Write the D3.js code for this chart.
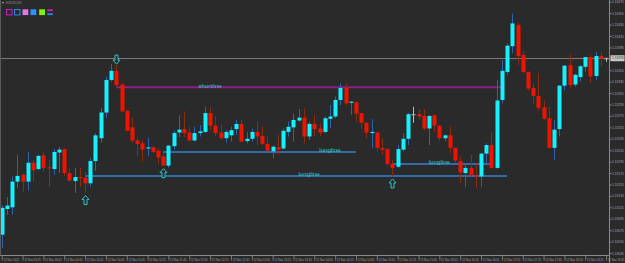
<!DOCTYPE html>
<html><head><meta charset="utf-8">
<script src="https://cdn.jsdelivr.net/npm/d3@7"></script>
<style>html,body{margin:0;padding:0;background:#2a2a2a;overflow:hidden}</style>
</head><body>
<svg id="c" width="625" height="263"></svg>
<script>
const symbol = "EURUSD,M5";
const day = "2021-11-12";
const barTimes = [
"09:05","09:10","09:15","09:20","09:25","09:30","09:35","09:40","09:45","09:50","09:55",
"10:00","10:05","10:10","10:15","10:20","10:25","10:30","10:35","10:40","10:45","10:50","10:55",
"11:00","11:05","11:10","11:15","11:20","11:25","11:30","11:35","11:40","11:45","11:50","11:55",
"12:00","12:05","12:10","12:15","12:20","12:25","12:30","12:35","12:40","12:45","12:50","12:55",
"13:00","13:05","13:10","13:15","13:20","13:25","13:30","13:35","13:40","13:45","13:50","13:55",
"14:00","14:05","14:10","14:15","14:20","14:25","14:30","14:35","14:40","14:45","14:50","14:55",
"15:00","15:05","15:10","15:15","15:20","15:25","15:30","15:35","15:40","15:45","15:50","15:55",
"16:00","16:05","16:10","16:15","16:20","16:25","16:30","16:35","16:40","16:45","16:50","16:55",
"17:00","17:05","17:10","17:15","17:20","17:25","17:30","17:35","17:40","17:45","17:50","17:55",
"18:00","18:05","18:10","18:15","18:20","18:25","18:30","18:35","18:40","18:45"];
const open = [
1.13067,1.13112,1.13115,1.13160,1.13172,1.13160,1.13193,1.13182,1.13206,1.13185,1.13182,
1.13211,1.13217,1.13175,1.13161,1.13168,1.13167,1.13157,1.13196,1.13236,1.13281,1.13338,1.13354,
1.13330,1.13284,1.13255,1.13232,1.13227,1.13218,1.13220,1.13214,1.13204,1.13188,1.13222,1.13246,
1.13252,1.13246,1.13232,1.13245,1.13247,1.13280,1.13258,1.13246,1.13236,1.13241,1.13252,1.13261,
1.13231,1.13235,1.13247,1.13240,1.13226,1.13213,1.13220,1.13218,1.13247,1.13255,1.13267,1.13272,
1.13239,1.13261,1.13253,1.13247,1.13270,1.13274,1.13303,1.13324,1.13298,1.13299,1.13280,1.13263,
1.13245,1.13246,1.13219,1.13217,1.13191,1.13186,1.13216,1.13235,1.13278,1.13278,1.13275,1.13253,
1.13276,1.13258,1.13236,1.13241,1.13219,1.13196,1.13175,1.13184,1.13171,1.13169,1.13209,1.13224,
1.13184,1.13303,1.13352,1.13397,1.13434,1.13382,1.13352,1.13324,1.13310,1.13290,1.13271,1.13219,
1.13252,1.13328,1.13364,1.13330,1.13343,1.13361,1.13378,1.13345,1.13380,1.13376];
const high = [
1.13118,1.13133,1.13169,1.13207,1.13174,1.13212,1.13198,1.13207,1.13211,1.13198,1.13217,
1.13221,1.13218,1.13184,1.13184,1.13184,1.13177,1.13201,1.13245,1.13289,1.13344,1.13366,1.13364,
1.13333,1.13286,1.13272,1.13237,1.13233,1.13237,1.13223,1.13219,1.13210,1.13224,1.13249,1.13276,
1.13283,1.13256,1.13256,1.13259,1.13291,1.13291,1.13274,1.13261,1.13250,1.13256,1.13268,1.13268,
1.13247,1.13253,1.13266,1.13256,1.13239,1.13224,1.13242,1.13253,1.13265,1.13279,1.13287,1.13288,
1.13265,1.13277,1.13262,1.13274,1.13294,1.13309,1.13332,1.13332,1.13301,1.13300,1.13280,1.13264,
1.13269,1.13247,1.13236,1.13218,1.13198,1.13224,1.13245,1.13280,1.13291,1.13287,1.13287,1.13276,
1.13278,1.13259,1.13242,1.13256,1.13220,1.13204,1.13189,1.13207,1.13193,1.13210,1.13227,1.13247,
1.13338,1.13373,1.13402,1.13454,1.13438,1.13389,1.13353,1.13332,1.13350,1.13302,1.13291,1.13268,
1.13329,1.13364,1.13382,1.13349,1.13364,1.13379,1.13382,1.13387,1.13387,1.13377];
const low = [
1.13044,1.13102,1.13102,1.13149,1.13142,1.13144,1.13160,1.13180,1.13177,1.13151,1.13172,
1.13175,1.13170,1.13160,1.13140,1.13151,1.13140,1.13151,1.13179,1.13228,1.13272,1.13335,1.13326,
1.13282,1.13248,1.13228,1.13205,1.13195,1.13205,1.13210,1.13191,1.13187,1.13184,1.13216,1.13238,
1.13238,1.13230,1.13230,1.13239,1.13245,1.13250,1.13239,1.13233,1.13228,1.13230,1.13242,1.13229,
1.13227,1.13230,1.13224,1.13224,1.13213,1.13201,1.13207,1.13216,1.13239,1.13230,1.13265,1.13227,
1.13233,1.13239,1.13239,1.13245,1.13253,1.13271,1.13294,1.13294,1.13277,1.13265,1.13253,1.13236,
1.13219,1.13213,1.13207,1.13186,1.13169,1.13184,1.13213,1.13224,1.13263,1.13269,1.13250,1.13224,
1.13247,1.13231,1.13231,1.13210,1.13192,1.13157,1.13151,1.13169,1.13149,1.13151,1.13192,1.13183,
1.13182,1.13297,1.13347,1.13385,1.13364,1.13350,1.13320,1.13297,1.13285,1.13268,1.13218,1.13198,
1.13239,1.13320,1.13325,1.13326,1.13335,1.13352,1.13333,1.13338,1.13362,1.13370];
const close = [
1.13114,1.13118,1.13160,1.13170,1.13160,1.13193,1.13180,1.13205,1.13184,1.13184,1.13212,
1.13216,1.13175,1.13162,1.13168,1.13167,1.13157,1.13196,1.13241,1.13281,1.13338,1.13354,1.13329,
1.13283,1.13249,1.13232,1.13226,1.13216,1.13220,1.13212,1.13202,1.13188,1.13223,1.13245,1.13251,
1.13245,1.13232,1.13245,1.13248,1.13280,1.13258,1.13245,1.13236,1.13247,1.13250,1.13261,1.13230,
1.13235,1.13247,1.13239,1.13226,1.13214,1.13221,1.13216,1.13249,1.13256,1.13268,1.13272,1.13239,
1.13261,1.13252,1.13246,1.13271,1.13274,1.13303,1.13324,1.13297,1.13300,1.13279,1.13263,1.13246,
1.13247,1.13219,1.13216,1.13191,1.13184,1.13217,1.13235,1.13278,1.13278,1.13274,1.13253,1.13275,
1.13258,1.13236,1.13241,1.13219,1.13197,1.13176,1.13184,1.13171,1.13169,1.13209,1.13224,1.13184,
1.13302,1.13354,1.13398,1.13437,1.13380,1.13352,1.13323,1.13310,1.13289,1.13270,1.13219,1.13251,
1.13328,1.13363,1.13329,1.13347,1.13362,1.13378,1.13344,1.13380,1.13375,1.13376];

const priceTicks = [1.13475,1.13455,1.13435,1.13415,1.13395,1.13375,1.13355,1.13335,1.13315,1.13295,1.13275,1.13255,
  1.13235,1.13215,1.13195,1.13175,1.13155,1.13135,1.13115,1.13095,1.13075,1.13055,1.13035];
const bidPrice = 1.13376;
const timeTickTimes = ["09:05","09:25","09:45","10:05","10:25","10:45","11:05","11:25","11:45","12:05","12:25","12:45",
  "13:05","13:25","13:45","14:05","14:25","14:45","15:05","15:25","15:45","16:05","16:25","16:45","17:05","17:25",
  "17:45","18:05","18:25","18:45"];
const timeTickLabels = ["12 Nov 2021","12 Nov 09:25","12 Nov 09:45","12 Nov 10:05","12 Nov 10:25","12 Nov 10:45",
  "12 Nov 11:05","12 Nov 11:25","12 Nov 11:45","12 Nov 12:05","12 Nov 12:25","12 Nov 12:45","12 Nov 13:05",
  "12 Nov 13:25","12 Nov 13:45","12 Nov 14:05","12 Nov 14:25","12 Nov 14:45","12 Nov 15:05","12 Nov 15:25",
  "12 Nov 15:45","12 Nov 16:05","12 Nov 16:25","12 Nov 16:45","12 Nov 17:05","12 Nov 17:25","12 Nov 17:45",
  "12 Nov 18:05","12 Nov 18:25","12 Nov 18:45"];

const lineNames  = ["shortline","longline","longline","longline"];
const lineKind   = ["short","long","long","long"];
const lineStart  = ["10:55","11:40","10:25","15:20"];
const lineEnd    = ["17:05","14:45","17:10","16:55"];
const linePrice  = [1.13325,1.13212,1.13170,1.13191];
const lineLabelAt= ["12:25","14:20","14:00","16:05"];

const arrowUpTimes = ["10:25","11:40","15:20"];
const arrowDownTimes = ["10:55"];

// ---------- drawing ----------
const W = 625, H = 263, plotRight = 609.5, plotBottom = 255.5;
const FONT = "Liberation Sans, Arial, sans-serif";
const parse = d3.timeParse("%Y-%m-%d %H:%M");
const T = s => parse(day + " " + s);
const bars = barTimes.map((t,i)=>({t:T(t), o:open[i], h:high[i], l:low[i], c:close[i]}));
const x = d3.scaleTime().domain([T(barTimes[0]), T(barTimes[barTimes.length-1])]).range([1.7, 606.1]);
const y = d3.scaleLinear().domain([priceTicks[priceTicks.length-1], priceTicks[0]]).range([253, 1.7]);

const svg = d3.select("#c");
svg.append("rect").attr("width",W).attr("height",H).attr("fill","#2a2a2a");
svg.append("defs").append("clipPath").attr("id","plot").append("rect")
  .attr("x",0).attr("y",0).attr("width",plotRight).attr("height",plotBottom);
const g = svg.append("g").attr("clip-path","url(#plot)");

// bid line
g.append("line").attr("x1",0).attr("x2",plotRight).attr("y1",Math.round(y(bidPrice))+0.5).attr("y2",Math.round(y(bidPrice))+0.5)
  .attr("stroke","#7a7a7a").attr("stroke-width",1);

// trend lines
const lines = lineNames.map((n,i)=>({n, kind:lineKind[i], s:T(lineStart[i]), e:T(lineEnd[i]), p:linePrice[i], la:T(lineLabelAt[i])}));
g.selectAll("line.tl").data(lines).enter().append("line").attr("class","tl")
  .attr("x1",d=>x(d.s)).attr("x2",d=>x(d.e)).attr("y1",d=>y(d.p)).attr("y2",d=>y(d.p))
  .attr("stroke",d=>d.kind==="short"?"#8c1f8c":"#2f6bac").attr("stroke-width",2);

// candles
const bull = "#14f2ff", bear = "#f01400", bullWick = "#2a63b0", bearWick = "#8a2c10", dojiCol = "#b8b8b8";
const cg = g.append("g");
const cand = cg.selectAll("g.c").data(bars).enter().append("g").attr("class","c");
const colFor = d => d.c > d.o ? "bull" : (d.c < d.o ? "bear" : "doji");
cand.append("line")
  .attr("x1",d=>Math.round(x(d.t))+0.5).attr("x2",d=>Math.round(x(d.t))+0.5)
  .attr("y1",d=>y(d.h)).attr("y2",d=>y(d.l))
  .attr("stroke",d=>({bull:bullWick,bear:bearWick,doji:dojiCol})[colFor(d)]).attr("stroke-width",1);
cand.append("rect")
  .attr("x",d=>Math.round(x(d.t))-1.5).attr("width",4)
  .attr("y",d=>y(Math.max(d.o,d.c)))
  .attr("height",d=>Math.max(1, y(Math.min(d.o,d.c)) - y(Math.max(d.o,d.c))))
  .attr("fill",d=>({bull:bull,bear:bear,doji:dojiCol})[colFor(d)]);

// line labels
g.selectAll("text.tl").data(lines).enter().append("text").attr("class","tl")
  .attr("x",d=>x(d.la)).attr("y",d=>y(d.p)+0.5).attr("text-anchor","middle")
  .attr("font-family",FONT).attr("font-size",6.2)
  .attr("fill","#34c6c6").text(d=>d.n);

// arrows
const barAt = t => bars.find(b=>+b.t===+T(t));
const upPath = "M0,0 L3.5,4 L1.5,4 L1.5,9 L-1.5,9 L-1.5,4 L-3.5,4 Z";
const downPath = "M0,0 L3.5,-4 L1.5,-4 L1.5,-9 L-1.5,-9 L-1.5,-4 L-3.5,-4 Z";
g.selectAll("path.au").data(arrowUpTimes.map(barAt)).enter().append("path").attr("class","au")
  .attr("d",upPath).attr("transform",d=>`translate(${Math.round(x(d.t))+0.5},${y(d.l)+2.5})`)
  .attr("fill","#2a2a2a").attr("stroke","#2fc4c4").attr("stroke-width",1);
g.selectAll("path.ad").data(arrowDownTimes.map(barAt)).enter().append("path").attr("class","ad")
  .attr("d",downPath).attr("transform",d=>`translate(${Math.round(x(d.t))+0.5},${y(d.h)-1})`)
  .attr("fill","#2a2a2a").attr("stroke","#2fc4c4").attr("stroke-width",1);

// price axis
const ya = svg.append("g").attr("transform",`translate(${plotRight},0)`)
  .call(d3.axisRight(y).tickValues(priceTicks).tickFormat(d3.format(".5f")).tickSize(2).tickSizeOuter(0));
ya.select(".domain").attr("stroke","#8a8a8a").attr("d",`M0,0V${H}`);
ya.selectAll(".tick line").attr("stroke","#8a8a8a");
ya.selectAll(".tick text").attr("x",2.5).attr("fill","#a8a8a8")
  .attr("font-family",FONT).attr("font-size",3.3);

// bid label
const by = y(bidPrice);
svg.append("rect").attr("x",plotRight+1).attr("y",by-3).attr("width",W-plotRight-1.5).attr("height",6).attr("fill","#c8c8c8");
svg.append("text").attr("x",plotRight+2.5).attr("y",by).attr("dy","0.35em").attr("fill","#303030")
  .attr("font-family",FONT).attr("font-size",3.3).text(d3.format(".5f")(bidPrice));

// time axis
const xa = svg.append("g").attr("transform",`translate(0,${plotBottom})`)
  .call(d3.axisBottom(x).tickValues(timeTickTimes.map(T)).tickFormat((d,i)=>timeTickLabels[i]).tickSize(5).tickSizeOuter(0));
xa.select(".domain").attr("stroke","#8a8a8a").attr("d",`M0,0H${plotRight}`);
xa.selectAll(".tick line").attr("stroke","#7a7a7a");
xa.selectAll(".tick text").attr("text-anchor","start").attr("x",1.2).attr("y",5).attr("dy",0).attr("fill","#a0a0a0")
  .attr("font-family",FONT).attr("font-size",2.8);

// left border
svg.append("line").attr("x1",0.5).attr("x2",0.5).attr("y1",0).attr("y2",plotBottom).attr("stroke","#5a5a5a");

// header
svg.append("path").attr("d","M1.5,2 L4.5,2 L3,4 Z").attr("fill","#8a8a8a");
svg.append("text").attr("x",6).attr("y",4.2).attr("fill","#8c8c8c")
  .attr("font-family",FONT).attr("font-size",2.7).text(symbol);
const icons = svg.append("g");
icons.append("rect").attr("x",6.5).attr("y",9.5).attr("width",5.5).attr("height",5.5).attr("fill","none").attr("stroke","#c81ec8");
icons.append("rect").attr("x",14.5).attr("y",9.5).attr("width",5.5).attr("height",5.5).attr("fill","none").attr("stroke","#2a8ae8");
icons.append("rect").attr("x",22.5).attr("y",9.3).attr("width",5.8).attr("height",5.8).attr("fill","#e276e2");
icons.append("rect").attr("x",30.5).attr("y",9.3).attr("width",5.8).attr("height",5.8).attr("fill","#2a92ff");
icons.append("rect").attr("x",39.2).attr("y",9.3).attr("width",5.8).attr("height",5.8).attr("fill","#84ee10");
icons.append("rect").attr("x",47.3).attr("y",9.3).attr("width",5.5).attr("height",1.8).attr("fill","#d020d0");
icons.append("rect").attr("x",47.3).attr("y",13.3).attr("width",5.5).attr("height",1.8).attr("fill","#2a8ae8");
</script>
</body></html>
